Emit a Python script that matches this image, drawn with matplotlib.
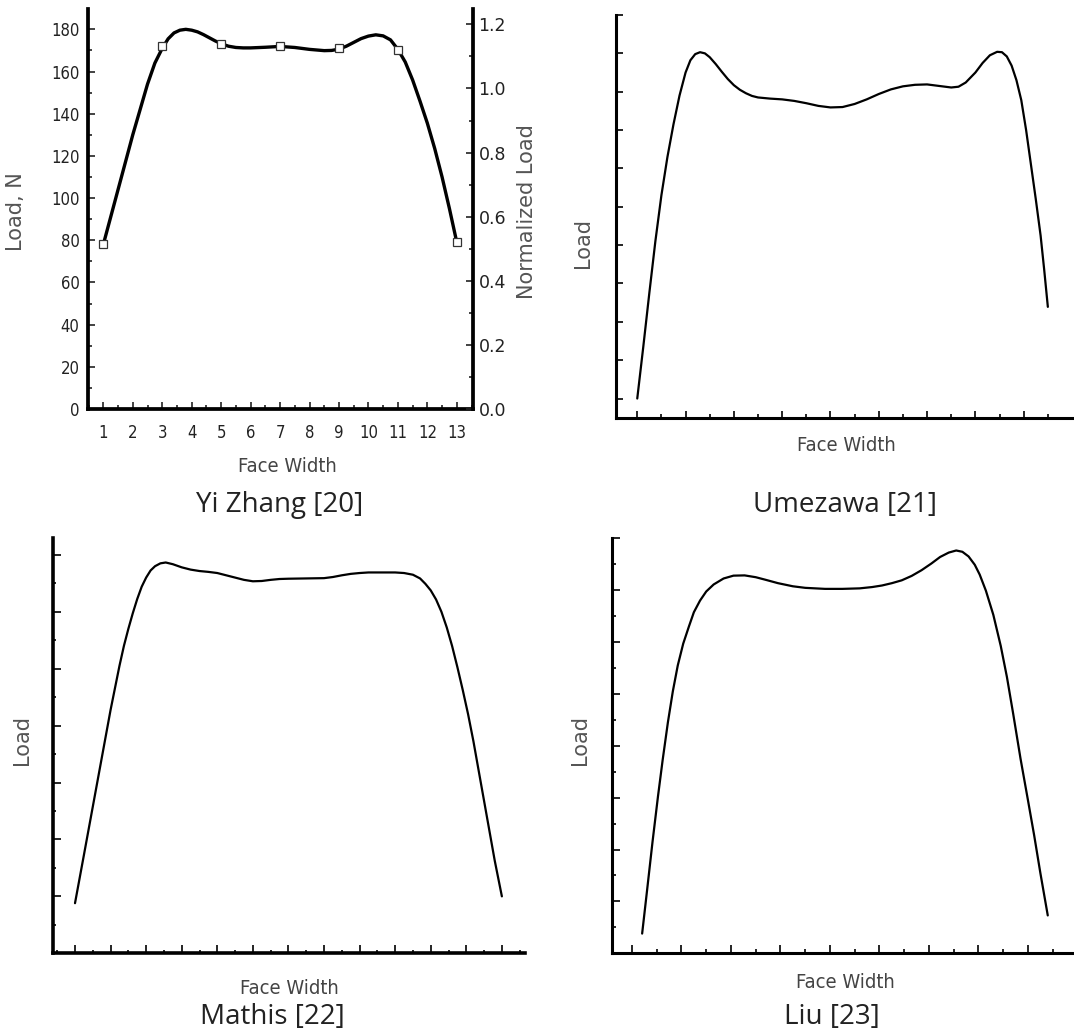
import matplotlib
matplotlib.use('Agg')
import matplotlib.pyplot as plt
from matplotlib.ticker import MultipleLocator, FixedLocator, NullFormatter

# Yi Zhang [20]: measured load along the face width (N)
zhang_mark_x = [1, 3, 5, 7, 9, 11, 13]
zhang_mark_y = [78, 172, 173, 172, 171, 170, 79]
zhang_x = [1.0, 1.25, 1.5, 1.75, 2.0, 2.25, 2.5, 2.75, 3.0, 3.2, 3.4, 3.6,
           3.8, 4.0, 4.2, 4.4, 4.6, 4.8, 5.0, 5.25, 5.5, 5.75, 6.0, 6.5, 7.0,
           7.5, 8.0, 8.5, 8.75, 9.0, 9.25, 9.5, 9.75, 10.0, 10.25, 10.5, 10.75,
           11.0, 11.25, 11.5, 11.75, 12.0, 12.25, 12.5, 12.75, 13.0]
zhang_y = [78, 91, 104, 117, 130, 142, 154, 164, 171, 175.5, 178.3, 179.6,
           180, 179.6, 178.8, 177.5, 176, 174.5, 173.2, 172, 171.4, 171.2,
           171.2, 171.5, 171.9, 171.4, 170.5, 169.9, 170, 170.6, 172, 173.8,
           175.6, 176.8, 177.4, 176.9, 175, 170.5, 164.5, 156, 146, 135.5,
           123.5, 110, 95, 79]

# Umezawa [21] (units = tick spacing)
ume_x = [0, 0.25, 0.5, 0.75, 1.0, 1.25, 1.5, 1.75, 2.0, 2.2, 2.4, 2.6, 2.8,
         3.0, 3.25, 3.5, 3.75, 4.0, 4.25, 4.5, 4.75, 5.0, 5.5, 6.0, 6.5, 7.0,
         7.5, 8.0, 8.5, 9.0, 9.5, 10.0, 10.5, 11.0, 11.5, 12.0, 12.5, 13.0,
         13.3, 13.6, 14.0, 14.3, 14.6, 14.9, 15.1, 15.3, 15.5, 15.7, 15.9,
         16.1, 16.3, 16.5, 16.7, 16.85, 17.0]
ume_y = [0, 1.35, 2.75, 4.1, 5.3, 6.3, 7.15, 7.9, 8.5, 8.82, 8.98, 9.03, 9.0,
         8.9, 8.72, 8.52, 8.33, 8.17, 8.05, 7.96, 7.89, 7.85, 7.82, 7.8, 7.76,
         7.7, 7.63, 7.59, 7.6, 7.68, 7.8, 7.94, 8.06, 8.14, 8.18, 8.19, 8.15,
         8.11, 8.13, 8.24, 8.5, 8.75, 8.95, 9.04, 9.03, 8.92, 8.68, 8.3, 7.78,
         7.0, 6.1, 5.2, 4.25, 3.35, 2.39]

# Mathis [22]
mathis_x = [0, 0.5, 1.0, 1.5, 2.0, 2.5, 2.75, 3.0, 3.25, 3.5, 3.75, 4.0,
            4.25, 4.5, 4.8, 5.1, 5.5, 6.0, 6.5, 7.0, 7.5, 8.0, 8.5, 9.0, 9.5,
            10.0, 10.5, 11.0, 11.5, 12.0, 13.0, 14.0, 14.5, 15.0, 15.5, 16.0,
            16.5, 17.0, 17.5, 18.0, 18.5, 19.0, 19.4, 19.7, 20.0, 20.3, 20.6,
            20.9, 21.2, 21.5, 21.8, 22.1, 22.4, 22.7, 23.0, 23.3, 23.6, 24.0]
mathis_y = [1.76, 3.45, 5.15, 6.85, 8.55, 10.1, 10.8, 11.4, 11.95, 12.45,
            12.88, 13.2, 13.45, 13.6, 13.7, 13.73, 13.67, 13.56, 13.48, 13.43,
            13.4, 13.36, 13.28, 13.2, 13.12, 13.07, 13.08, 13.12, 13.15, 13.16,
            13.17, 13.18, 13.22, 13.28, 13.33, 13.36, 13.38, 13.38, 13.38,
            13.38, 13.36, 13.3, 13.17, 12.98, 12.75, 12.43, 12.0, 11.45, 10.8,
            10.05, 9.25, 8.4, 7.45, 6.4, 5.35, 4.3, 3.25, 2.0]

# Liu [23]
liu_x = [0.41, 0.6, 0.83, 1.05, 1.24, 1.45, 1.65, 1.85, 2.07, 2.3, 2.5, 2.75,
         3.0, 3.3, 3.7, 4.1, 4.55, 5.0, 5.4, 5.9, 6.5, 7.0, 7.8, 8.5, 9.2,
         9.7, 10.1, 10.5, 10.9, 11.3, 11.7, 12.1, 12.45, 12.8, 13.1, 13.35,
         13.6, 13.85, 14.05, 14.3, 14.6, 14.9, 15.15, 15.4, 15.7, 16.0, 16.25,
         16.5, 16.8]
liu_y = [0.76, 2.35, 4.3, 6.05, 7.46, 8.9, 10.1, 11.1, 11.94, 12.6, 13.15,
         13.6, 13.95, 14.22, 14.45, 14.56, 14.57, 14.5, 14.4, 14.27, 14.15,
         14.09, 14.05, 14.05, 14.07, 14.12, 14.18, 14.27, 14.38, 14.55, 14.77,
         15.03, 15.28, 15.45, 15.53, 15.48, 15.3, 14.98, 14.6, 13.98, 13.05,
         11.85, 10.65, 9.25, 7.5, 5.9, 4.55, 3.1, 1.46]

captions = ['Yi Zhang [20]', 'Umezawa [21]', 'Mathis [22]', 'Liu [23]']

W, H = 1074, 1036
fig = plt.figure(figsize=(W / 100, H / 100), dpi=100)

narrow = dict(family='DejaVu Sans', fontstretch='condensed')
label_col = '#555555'
curve = dict(color='black', solid_joinstyle='round', solid_capstyle='round')


def box(left, right, top, bottom):
    return [left / W, 1 - bottom / H, (right - left) / W, (bottom - top) / H]


def plain_axes(rect, xlim, ylim, xmaj, xmin, ymaj, ymin, lw=2.2):
    ax = fig.add_axes(rect)
    ax.set_xlim(*xlim)
    ax.set_ylim(*ylim)
    for s in ['top', 'right']:
        ax.spines[s].set_visible(False)
    for s in ['left', 'bottom']:
        ax.spines[s].set_linewidth(lw)
    ax.xaxis.set_major_locator(FixedLocator(xmaj))
    ax.xaxis.set_minor_locator(FixedLocator(xmin))
    ax.yaxis.set_major_locator(FixedLocator(ymaj))
    ax.yaxis.set_minor_locator(FixedLocator(ymin))
    ax.tick_params(which='both', direction='in', labelbottom=False,
                   labelleft=False, width=1.2)
    ax.tick_params(which='major', length=5)
    ax.tick_params(which='minor', length=3)
    return ax


# ---- panel 1: Yi Zhang ----
ax1 = fig.add_axes(box(88, 473, 9.3, 409))
ax1.plot(zhang_x, zhang_y, lw=2.4, **curve)
ax1.plot(zhang_mark_x, zhang_mark_y, ls='none', marker='s', ms=6,
         mfc='white', mec='#333333', mew=0.9)
ax1.set_xlim(0.48, 13.55)
ax1.set_ylim(0, 189.5)
ax1.spines['top'].set_visible(False)
ax1.spines['right'].set_visible(False)
for s in ['left', 'bottom']:
    ax1.spines[s].set_linewidth(2.7)
ax1.xaxis.set_major_locator(MultipleLocator(1))
ax1.xaxis.set_minor_locator(MultipleLocator(0.5))
ax1.yaxis.set_major_locator(MultipleLocator(20))
ax1.yaxis.set_minor_locator(MultipleLocator(10))
ax1.tick_params(which='both', direction='in', width=1.2, colors='#222222',
                labelsize=12)
ax1.tick_params(which='major', length=5)
ax1.tick_params(which='minor', length=3)
ax1.tick_params(axis='x', pad=11)
ax1.tick_params(axis='y', pad=6)
for t in ax1.get_xticklabels() + ax1.get_yticklabels():
    t.set_fontstretch('condensed')

ax1r = ax1.twinx()
ax1r.set_ylim(0, 1.247)
for s in ['top', 'left', 'bottom']:
    ax1r.spines[s].set_visible(False)
ax1r.spines['right'].set_linewidth(2.7)
ax1r.yaxis.set_major_locator(MultipleLocator(0.2))
ax1r.yaxis.set_minor_locator(MultipleLocator(0.1))
ax1r.yaxis.set_minor_formatter(NullFormatter())
ax1r.tick_params(which='both', direction='in', width=1.2, colors='#222222',
                 labelsize=12.5, pad=4)
ax1r.tick_params(which='major', length=5)
ax1r.tick_params(which='minor', length=3)
ax1r.set_yticks([0, 0.2, 0.4, 0.6, 0.8, 1.0, 1.2])
ax1r.set_yticklabels(['0.0', '0.2', '0.4', '0.6', '0.8', '1.0', '1.2'])

# ---- panel 2: Umezawa ----
ax2 = plain_axes(box(616, 1072, 15, 417.7), (-0.88, 18.0), (-0.5, 10),
                 range(0, 18, 2), range(1, 18, 2), range(0, 11), [])
ax2.plot(ume_x, ume_y, lw=1.6, **curve)

# ---- panel 3: Mathis ----
ax3 = plain_axes(box(53.3, 525, 538.3, 953.3), (-1.22, 25.3), (0, 14.58),
                 range(0, 26, 2), range(-1, 26, 2), range(2, 15, 2),
                 range(1, 15, 2), lw=2.6)
ax3.tick_params(which='major', length=6)
ax3.tick_params(which='minor', length=2.5)
ax3.plot(mathis_x, mathis_y, lw=1.6, **curve)

# ---- panel 4: Liu ----
ax4 = plain_axes(box(611.7, 1074, 538.3, 953.3), (-0.82, 17.86), (0, 16),
                 range(0, 18, 2), range(1, 18, 2), range(2, 17, 2),
                 range(1, 17, 2))
ax4.tick_params(which='major', length=6)
ax4.plot(liu_x, liu_y, lw=1.6, **curve)

# ---- labels ----
def ftext(x, y, s, **kw):
    fig.text(x / W, 1 - y / H, s, ha='center', va='center', **kw)

ylab = dict(family='DejaVu Sans', size=15, color=label_col, rotation=90)
xlab = dict(size=14.5, color='#444444', **narrow)
cap = dict(family='Open Sans', size=20, color='#222222')

ftext(16, 212, 'Load, N', **ylab)
ftext(527, 212, 'Normalized Load', **ylab)
ftext(583, 243, 'Load', **ylab)
ftext(22, 740, 'Load', **ylab)
ftext(580, 740, 'Load', **ylab)

ftext(287, 466, 'Face Width', **xlab)
ftext(846, 446, 'Face Width', **xlab)
ftext(289, 988, 'Face Width', **xlab)
ftext(845, 983, 'Face Width', **xlab)

ftext(280, 505, captions[0], **cap)
ftext(845, 505, captions[1], **cap)
ftext(272, 1017, captions[2], **cap)
ftext(832, 1017, captions[3], **cap)

fig.savefig('out.png', dpi=100)
